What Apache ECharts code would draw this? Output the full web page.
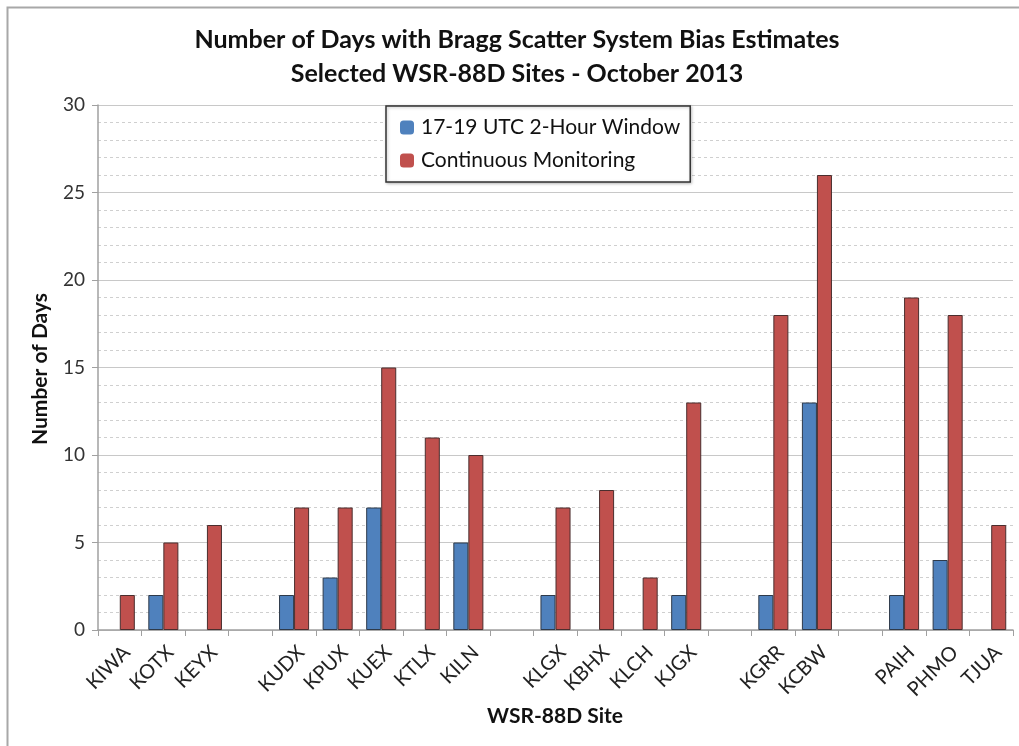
<!DOCTYPE html>
<html>
<head>
<meta charset="utf-8">
<script src="https://cdn.jsdelivr.net/npm/echarts@6/dist/echarts.min.js"></script>
<style>
  html, body { margin: 0; padding: 0; background: #fff; }
  #chart { width: 1019px; height: 746px; }
</style>
</head>
<body>
<div id="chart"></div>
<script>
// WSR-88D sites, grouped; empty entries leave a blank slot between groups
const sites = ['KIWA', 'KOTX', 'KEYX', '',
               'KUDX', 'KPUX', 'KUEX', 'KTLX', 'KILN', '',
               'KLGX', 'KBHX', 'KLCH', 'KJGX', '',
               'KGRR', 'KCBW', '',
               'PAIH', 'PHMO', 'TJUA'];

// Days with estimates in the 17-19 UTC window
const windowDays = [0, 2, 0, null,
                    2, 3, 7, 0, 5, null,
                    2, 0, 0, 2, null,
                    2, 13, null,
                    2, 4, 0];

// Days with estimates from continuous monitoring
const continuousDays = [2, 5, 6, null,
                        7, 7, 15, 11, 10, null,
                        7, 8, 3, 13, null,
                        18, 26, null,
                        19, 18, 6];

const yTicks = { min: 0, max: 30, interval: 5 };

const FONT = 'Lato, "Open Sans", "Liberation Sans", sans-serif';

// blank slots get distinct names so the axis keeps one slot each
const axisCats = sites.map((s, i) => s === '' ? ' '.repeat(i + 1) : s);

// zero-height bars are drawn without an outline so they stay invisible
const asBars = arr => arr.map(v => v === 0 ? { value: 0, itemStyle: { borderWidth: 0, opacity: 0 } } : v);

const chart = echarts.init(document.getElementById('chart'), null, { renderer: 'canvas' });

chart.setOption({
  backgroundColor: '#ffffff',
  animation: false,
  title: {
    text: 'Number of Days with Bragg Scatter System Bias Estimates\nSelected WSR-88D Sites - October 2013',
    left: 512,
    top: 18,
    textAlign: 'center',
    textStyle: {
      fontFamily: FONT,
      fontSize: 25,
      fontWeight: 'bold',
      color: '#111',
      lineHeight: 34
    }
  },
  legend: {
    orient: 'vertical',
    left: 386,
    top: 106,
    padding: [11, 10, 11, 14],
    itemGap: 12,
    itemWidth: 14,
    itemHeight: 14,
    borderColor: '#333',
    borderWidth: 1.5,
    backgroundColor: '#fff',
    shadowColor: 'rgba(0,0,0,0.25)',
    shadowBlur: 3,
    shadowOffsetX: 1,
    shadowOffsetY: 1,
    textStyle: { fontFamily: FONT, fontSize: 21, color: '#111', padding: [0, 0, 0, 2] },
    data: [
      { name: '17-19 UTC 2-Hour Window', itemStyle: { borderWidth: 0 } },
      { name: 'Continuous Monitoring', itemStyle: { borderWidth: 0 } }
    ]
  },
  grid: {
    left: 98,
    right: 6,
    top: 105,
    bottom: 116,
    containLabel: false
  },
  xAxis: {
    type: 'category',
    data: axisCats,
    boundaryGap: true,
    axisLine: { lineStyle: { color: '#a0a0a0', width: 1.5 } },
    axisTick: { show: true, alignWithLabel: false, length: 6, lineStyle: { color: '#a0a0a0' } },
    axisLabel: {
      interval: 0,
      rotate: 45,
      margin: 12,
      verticalAlign: 'top',
      fontFamily: FONT,
      fontSize: 20,
      color: '#222'
    },
    splitLine: { show: false }
  },
  yAxis: {
    type: 'value',
    min: yTicks.min,
    max: yTicks.max,
    interval: yTicks.interval,
    axisLine: { show: true, lineStyle: { color: '#a0a0a0', width: 1.5 } },
    axisTick: { show: true, length: 6, lineStyle: { color: '#a0a0a0' } },
    axisLabel: { fontFamily: FONT, fontSize: 19, color: '#333', margin: 13 },
    splitLine: { show: true, lineStyle: { color: '#c8c8c8', width: 1.2 } },
    minorTick: { show: false, splitNumber: 5 },
    minorSplitLine: { show: true, lineStyle: { color: '#cfcfcf', type: [3, 3], width: 1 } }
  },
  series: [
    {
      name: '17-19 UTC 2-Hour Window',
      type: 'bar',
      data: asBars(windowDays),
      barGap: '0%',
      barCategoryGap: '31%',
      itemStyle: { color: '#4F81BD', borderColor: '#2e3a4a', borderWidth: 1 }
    },
    {
      name: 'Continuous Monitoring',
      type: 'bar',
      data: asBars(continuousDays),
      barGap: '0%',
      barCategoryGap: '31%',
      itemStyle: { color: '#C0504D', borderColor: '#4a2e2e', borderWidth: 1 }
    }
  ],
  graphic: [
    {
      type: 'rect',
      left: 5,
      top: 5,
      shape: { width: 1100, height: 800 },
      style: { fill: null, stroke: '#a8a8a8', lineWidth: 2 },
      silent: true,
      z: -1
    },
    {
      type: 'text',
      x: 40,
      y: 369,
      rotation: Math.PI / 2,
      style: {
        text: 'Number of Days',
        fontFamily: FONT,
        fontSize: 21,
        fontWeight: 'bold',
        fill: '#111',
        align: 'center',
        verticalAlign: 'middle'
      }
    },
    {
      type: 'text',
      style: {
        text: 'WSR-88D Site',
        fontFamily: FONT,
        fontSize: 21,
        fontWeight: 'bold',
        fill: '#111',
        align: 'center',
        verticalAlign: 'middle'
      },
      x: 555,
      y: 716
    }
  ]
});
</script>
</body>
</html>
